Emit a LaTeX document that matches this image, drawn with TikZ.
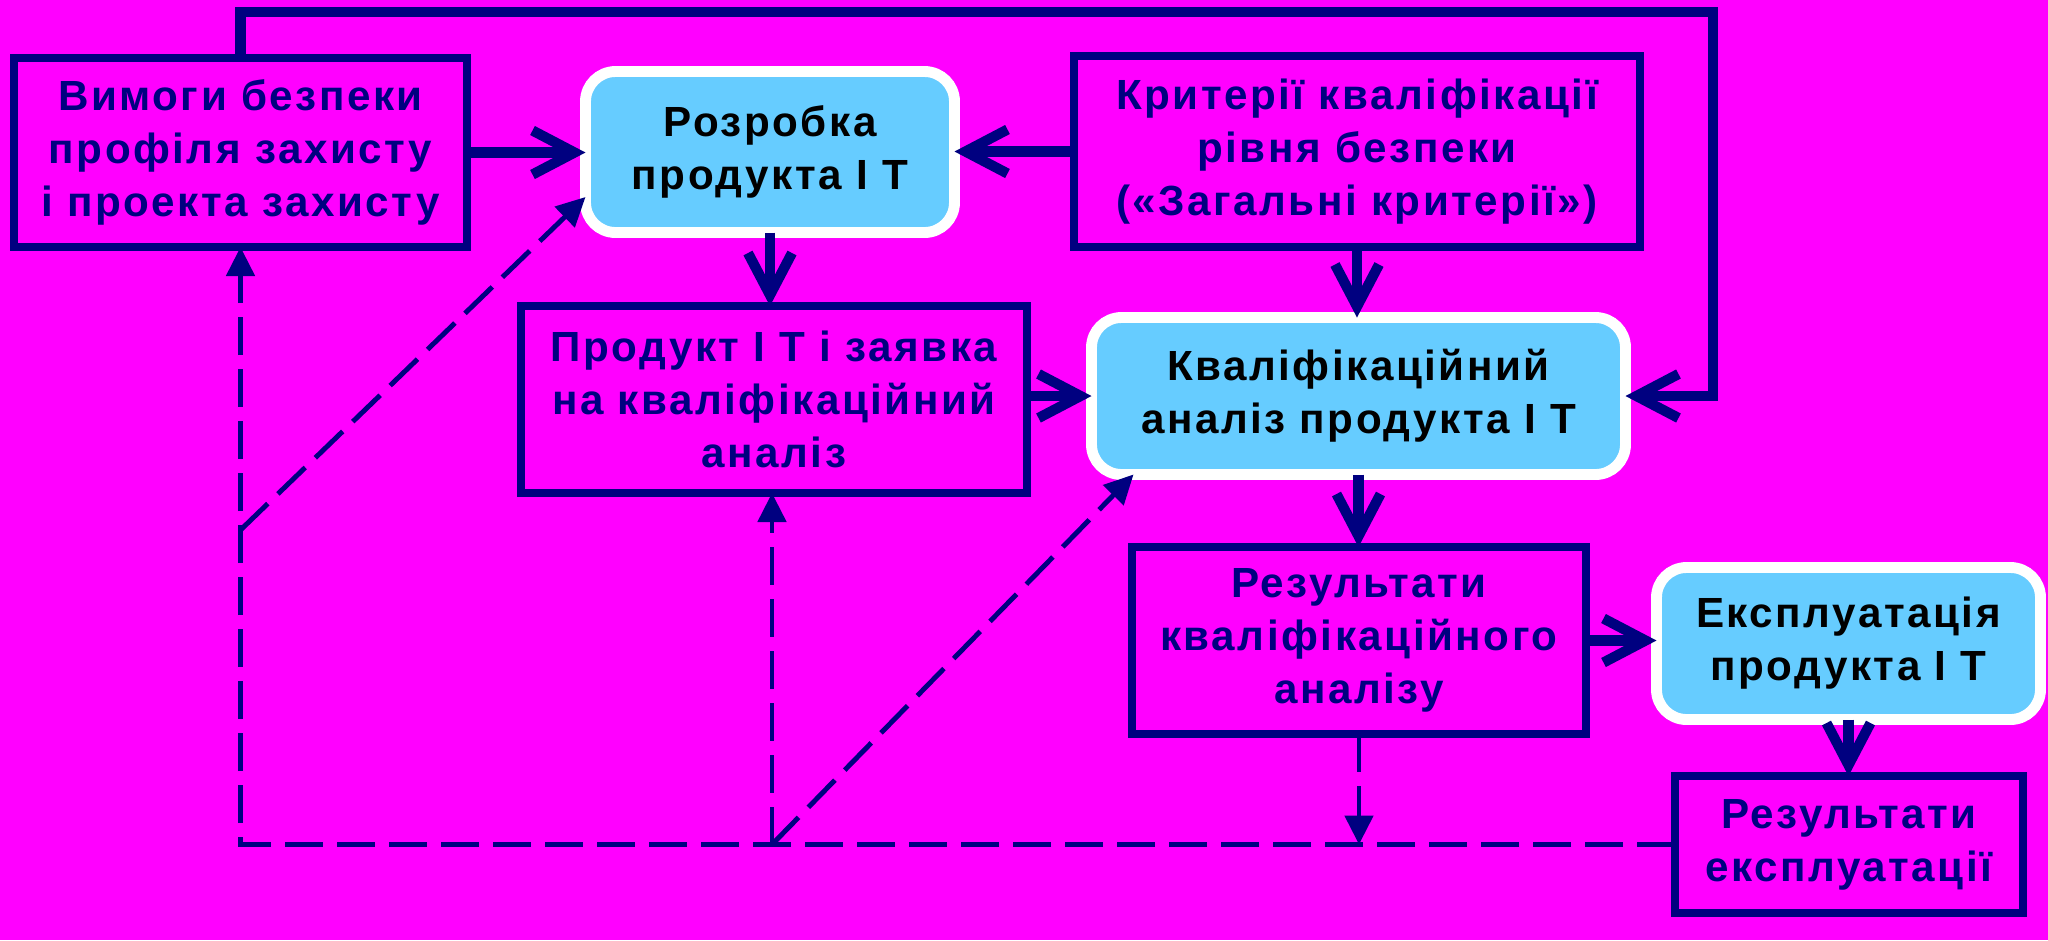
\documentclass[tikz,border=0pt]{standalone}
\usepackage{fontspec}
\newfontfamily\boxfont{Liberation Sans}[LetterSpace=6]
\usetikzlibrary{arrows.meta,positioning}
\definecolor{bgmag}{HTML}{FF00FF}
\definecolor{navy}{HTML}{000080}
\definecolor{skyfill}{HTML}{66CCFF}
\begin{document}
\begin{tikzpicture}[
    box/.style={draw=navy,line width=2.2pt,rectangle,outer sep=0pt,text=navy,align=center,inner sep=0pt,
      font={\boxfont\bfseries\fontsize{12}{15.1}\selectfont}},
    stage/.style={draw=white,line width=3.1pt,rectangle,outer sep=0pt,rounded corners=0.3cm,fill=skyfill,
      text=black,align=center,inner sep=0pt,font={\boxfont\bfseries\fontsize{12}{15.1}\selectfont}},
    flow/.style={navy,line width=2.9pt,line join=miter,-{Straight Barb[length=0.42cm,width=0.44cm]}},
    back/.style={navy,line width=1.4pt,dash pattern=on 0.38cm off 0.14cm,-{Triangle[length=0.29cm,width=0.28cm]}}]
        %draw background
        \fill[bgmag] (0,0) rectangle (20.48,-9.40);
        \useasboundingbox (0,0) rectangle (20.48,-9.40);

        %draw boxes
        \node[box,minimum width=4.53cm,minimum height=1.89cm] (nodeReq) at (2.405,-1.525) {Вимоги безпеки\\профіля захисту\\і проекта захисту};
        \node[stage,minimum width=3.69cm,minimum height=1.61cm] (nodeDev) at (7.70,-1.52) {Розробка\\продукта І Т};
        \node[box,minimum width=5.66cm,minimum height=1.91cm] (nodeCrit) at (13.57,-1.515) {Критерії кваліфікації\\рівня безпеки\\(«Загальні критерії»)};
        \node[box,minimum width=5.06cm,minimum height=1.87cm] (nodeProd) at (7.74,-3.995) {Продукт І Т і заявка\\на кваліфікаційний\\аналіз};
        \node[stage,minimum width=5.34cm,minimum height=1.57cm] (nodeEval) at (13.585,-3.96) {Кваліфікаційний\\аналіз продукта І Т};
        \node[box,minimum width=4.54cm,minimum height=1.87cm] (nodeRes) at (13.59,-6.405) {Результати\\кваліфікаційного\\аналізу};
        \node[stage,minimum width=3.84cm,minimum height=1.52cm] (nodeUse) at (18.485,-6.435) {Експлуатація\\продукта І Т};
        \node[box,minimum width=3.48cm,minimum height=1.37cm] (nodeUseRes) at (18.49,-8.445) {Результати\\експлуатації};

        %draw solid flows
        \coordinate (topR) at (17.13,-0.12);
        \draw[flow] (nodeReq.north) |- (topR) |- (nodeEval.east);
        \draw[flow] (nodeReq.east) -- (nodeReq.east -| nodeDev.west);
        \draw[flow] (nodeCrit.west) -- (nodeCrit.west -| nodeDev.east);
        \draw[flow] (nodeDev.south) -- (nodeDev.south |- nodeProd.north);
        \draw[flow] (nodeCrit.south) -- (nodeCrit.south |- nodeEval.north);
        \draw[flow] (nodeEval.west -| nodeProd.east) -- (nodeEval.west);
        \draw[flow] (nodeEval.south) -- (nodeEval.south |- nodeRes.north);
        \draw[flow] (nodeRes.east) -- (nodeRes.east -| nodeUse.west);
        \draw[flow] (nodeUse.south) -- (nodeUse.south |- nodeUseRes.north);

        %draw dashed feedback
        \coordinate (backM) at (7.72,-8.445);
        \coordinate (backK) at (2.405,-5.30);
        \draw[back] (nodeUseRes.west) -| (nodeReq.south);
        \draw[back] (backM) -- (backM |- nodeProd.south);
        \draw[back] (backM) -- ([xshift=0.42cm]nodeEval.south west);
        \draw[back] (backK) -- ([yshift=-0.45cm]nodeDev.west);
        \draw[back] (nodeRes.south) -- (nodeRes.south |- backM);
\end{tikzpicture}
\end{document}
